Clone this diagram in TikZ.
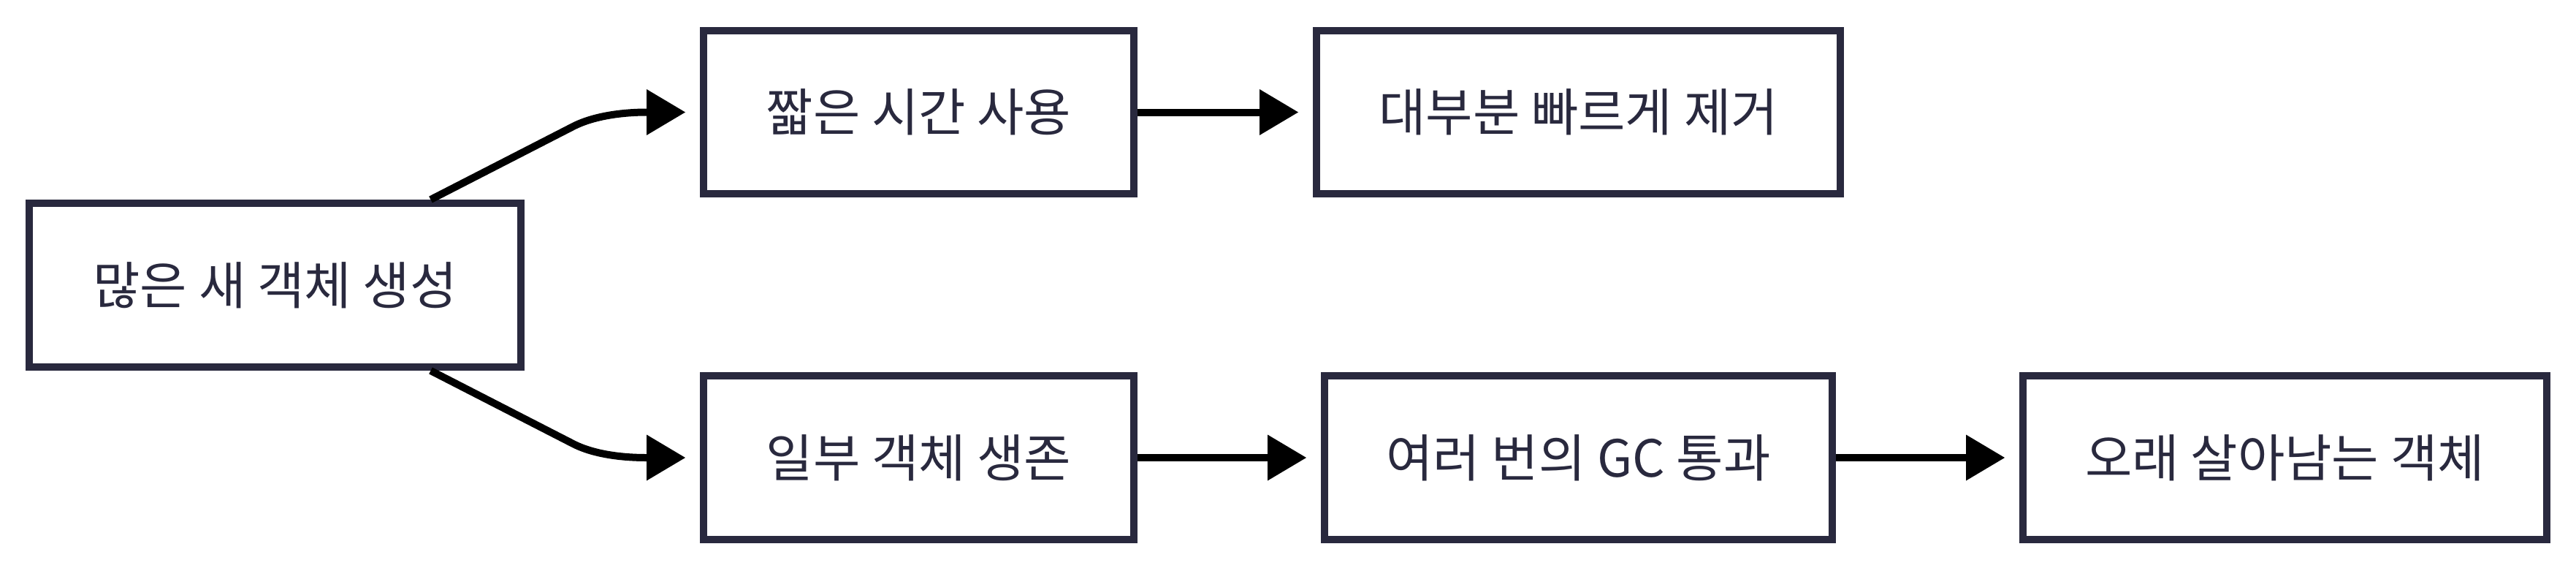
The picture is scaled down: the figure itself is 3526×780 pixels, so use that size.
\documentclass[tikz,border=0pt]{standalone}
\usepackage{fontspec}
\setmainfont{Noto Sans CJK KR}
\usetikzlibrary{arrows.meta,backgrounds}
\definecolor{boxline}{RGB}{41,41,62}
\definecolor{shgray}{RGB}{239,239,239}
\tikzset{
  box/.style={draw=boxline, line width=10pt, fill=white, inner sep=0pt,
    text=boxline, font=\fontsize{70}{82}\selectfont, anchor=center},
  arr/.style={draw=black, line width=10pt,
    -{Triangle[length=53pt,width=63pt,line width=0pt]}, shorten >=20pt},
}
\begin{document}
\begin{tikzpicture}[x=1pt,y=-1pt]
\useasboundingbox[fill=white] (0,0) rectangle (3526,780);
\node[box, minimum width=673pt, minimum height=224pt] (a) at (376.5,390) {많은 새 객체 생성};
\node[box, minimum width=589pt, minimum height=223pt] (b) at (1257.5,153.5) {짧은 시간 사용};
\node[box, minimum width=717pt, minimum height=223pt] (c) at (2160.5,153.5) {대부분 빠르게 제거};
\node[box, minimum width=589pt, minimum height=224pt] (d) at (1257.5,626) {일부 객체 생존};
\node[box, minimum width=695pt, minimum height=224pt] (e) at (2160.5,626) {여러 번의 GC 통과};
\node[box, minimum width=717pt, minimum height=224pt] (f) at (3127.5,626) {오래 살아남는 객체};
\begin{scope}[on background layer]
\foreach \n in {a,b,c,d,e,f}
  \fill[shgray] ([shift={(15pt,-15pt)}]\n.north west) rectangle ([shift={(25pt,-25pt)}]\n.south east);
\end{scope}
\draw[arr] ([xshift=213pt]a.north) -- ++(195,-100) .. controls +(35,-18) and +(-90,0) .. (b.west);
\draw[arr] ([xshift=213pt]a.south) -- ++(195,100) .. controls +(35,18) and +(-90,0) .. (d.west);
\draw[arr] (b.east) -- (c.west);
\draw[arr] (d.east) -- (e.west);
\draw[arr] (e.east) -- (f.west);
\end{tikzpicture}
\end{document}
